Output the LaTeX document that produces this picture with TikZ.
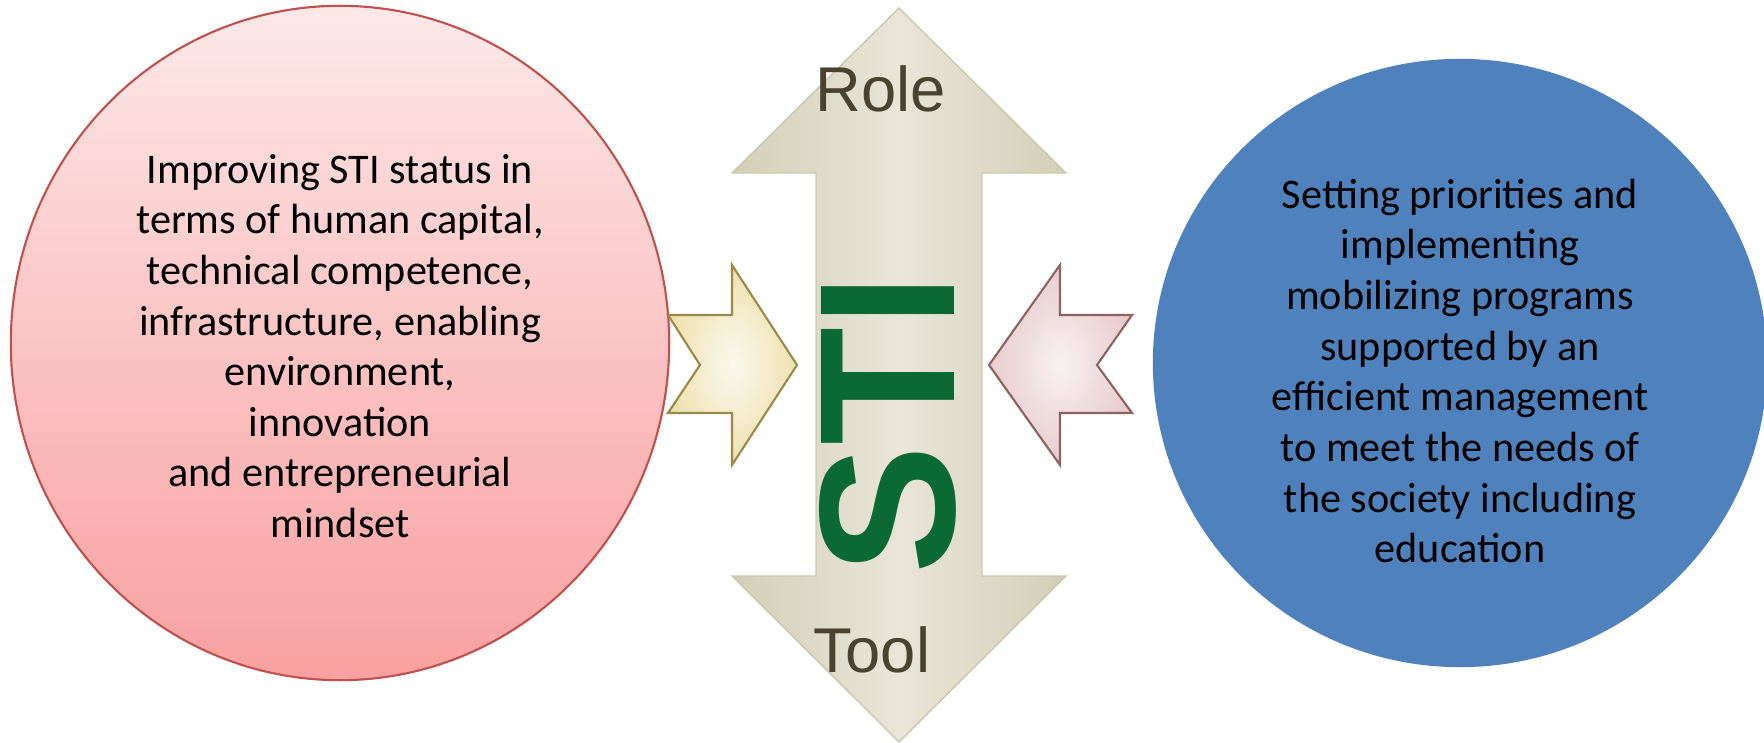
\documentclass[tikz,border=0pt]{standalone}
\usepackage{fontspec}
\setmainfont{Carlito}
\newfontfamily\arialfont{Liberation Sans}
\usetikzlibrary{shapes.geometric}

\definecolor{roseedge}{HTML}{C0504D}
\definecolor{rosetop}{HTML}{FDE8E8}
\definecolor{rosebottom}{HTML}{F9A0A0}
\definecolor{officeblue}{HTML}{4F81BD}
\definecolor{stemline}{HTML}{CCC7AE}
\definecolor{stemlight}{HTML}{E9E6D8}
\definecolor{stemdark}{HTML}{D3CEB6}
\definecolor{labelink}{HTML}{4A4330}
\definecolor{stigreen}{HTML}{0B6A33}
\definecolor{creamedge}{HTML}{9A8A4A}
\definecolor{cream}{HTML}{FAF8EE}
\definecolor{creamglow}{HTML}{EEE2B0}
\definecolor{blushedge}{HTML}{8E6262}
\definecolor{blush}{HTML}{F8F1F1}
\definecolor{blushglow}{HTML}{E8CCCE}

\tikzset{
  disc/.style={ellipse, inner sep=0pt},
  bodytext/.style={align=center, inner sep=0pt, font=\fontsize{12}{14.4}\selectfont},
  axislabel/.style={inner sep=0pt, text=labelink, font=\arialfont\fontsize{18}{18}\selectfont},
  sidearrow/.style={line width=0.6pt, line join=miter},
}

\begin{document}
\begin{tikzpicture}[x=0.01cm, y=-0.01cm]
\useasboundingbox (0,0) rectangle (1764,743);

% the two discs
\node[disc, minimum width=6.58cm, minimum height=6.74cm, draw=roseedge, semithick,
      top color=rosetop, bottom color=rosebottom] (status) at (340,343) {};
\node[disc, minimum width=6.14cm, minimum height=6.08cm, fill=officeblue] (priorities) at (1460,363) {};

\node[bodytext] (statustext) at (340,346) {Improving STI status in\\terms of human capital,\\technical competence,\\infrastructure, enabling\\environment,\\innovation\\and entrepreneurial\\mindset};
\node[bodytext] (prioritiestext) at (1460,371) {Setting priorities and\\implementing\\mobilizing programs\\supported by an\\efficient management\\to meet the needs of\\the society including\\education};

% double arrow in the middle
\draw[stemline, left color=stemdark, right color=stemdark, middle color=stemlight]
  (899,8) -- (1066,173) -- (982,173) -- (982,576) -- (1066,576) -- (899,742)
  -- (732,576) -- (816,576) -- (816,173) -- (732,173) -- cycle;

% side arrows
\draw[sidearrow, draw=creamedge, inner color=cream, outer color=creamglow]
  (668,315) -- (732,315) -- (732,265) -- (797,365) -- (732,465) -- (732,413) -- (668,413) -- (700,365) -- cycle;
\draw[sidearrow, draw=blushedge, inner color=blush, outer color=blushglow]
  (1132,315) -- (1060,315) -- (1060,265) -- (989,365) -- (1060,465) -- (1060,413) -- (1132,413) -- (1097,365) -- cycle;

\node[axislabel, anchor=base] (role) at (881,112) {Role};
\node[axislabel, anchor=base] (tool) at (872,672) {Tool};
\node[rotate=90, inner sep=0pt, text=stigreen, font=\arialfont\bfseries\fontsize{55}{55}\selectfont] (sti) at (888,424) {STI};
\end{tikzpicture}
\end{document}
